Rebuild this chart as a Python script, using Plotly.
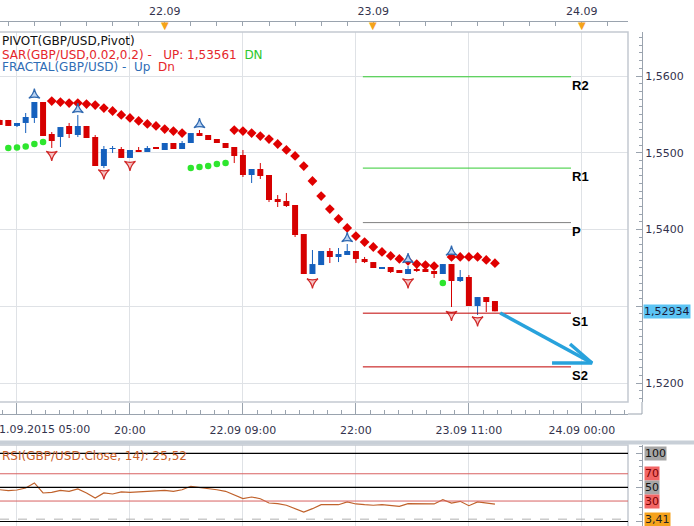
import plotly.graph_objects as go

W, H = 694, 526

# ---------------- data ----------------
bar_idx = list(range(-1, 57))
opens = [1.55427, 1.55427, 1.55349, 1.55388, 1.55453, 1.55661, 1.55244, 1.55205, 1.55349, 1.55231,
         1.55349, 1.55205, 1.54827, 1.55049, 1.55049, 1.54932, 1.55036, 1.55010, 1.55062, 1.55036,
         1.55127, 1.55049, 1.55127, 1.55257, 1.55231, 1.55179, 1.55127, 1.55075, 1.54971, 1.54710,
         1.54788, 1.54710, 1.54397, 1.54371, 1.54319, 1.53941, 1.53420, 1.53537, 1.53720, 1.53642,
         1.53668, 1.53720, 1.53616, 1.53576, 1.53498, 1.53511, 1.53472, 1.53420, 1.53485, 1.53485,
         1.53459, 1.53420, 1.53550, 1.53329, 1.53381, 1.53003, 1.53120, 1.53068]
highs = [1.55440, 1.55427, 1.55388, 1.55518, 1.55661, 1.55661, 1.55270, 1.55335, 1.55388, 1.55492,
         1.55349, 1.55231, 1.55088, 1.55088, 1.55075, 1.55036, 1.55075, 1.55088, 1.55062, 1.55127,
         1.55127, 1.55153, 1.55257, 1.55296, 1.55231, 1.55179, 1.55127, 1.55075, 1.55036, 1.54788,
         1.54866, 1.54710, 1.54449, 1.54476, 1.54319, 1.53941, 1.53733, 1.53720, 1.53759, 1.53759,
         1.53811, 1.53720, 1.53642, 1.53576, 1.53511, 1.53511, 1.53472, 1.53524, 1.53563, 1.53485,
         1.53459, 1.53550, 1.53550, 1.53472, 1.53407, 1.53120, 1.53120, 1.53068]
lows = [1.55362, 1.55349, 1.55335, 1.55257, 1.55388, 1.55218, 1.55062, 1.55075, 1.55192, 1.55205,
        1.55192, 1.54827, 1.54801, 1.54997, 1.54932, 1.54932, 1.55010, 1.55010, 1.55049, 1.55036,
        1.55049, 1.55049, 1.55127, 1.55231, 1.55166, 1.55127, 1.55062, 1.54866, 1.54684, 1.54606,
        1.54658, 1.54358, 1.54293, 1.54293, 1.53902, 1.53420, 1.53420, 1.53537, 1.53563, 1.53576,
        1.53668, 1.53563, 1.53563, 1.53498, 1.53498, 1.53433, 1.53433, 1.53420, 1.53446, 1.53446,
        1.53368, 1.53420, 1.52990, 1.53316, 1.53003, 1.52886, 1.52925, 1.52934]
closes = [1.55362, 1.55349, 1.55388, 1.55466, 1.55661, 1.55218, 1.55153, 1.55335, 1.55244, 1.55349,
          1.55192, 1.54827, 1.55049, 1.55055, 1.54932, 1.55036, 1.55010, 1.55062, 1.55049, 1.55127,
          1.55049, 1.55127, 1.55257, 1.55231, 1.55166, 1.55127, 1.55062, 1.54958, 1.54710, 1.54788,
          1.54697, 1.54384, 1.54358, 1.54306, 1.53928, 1.53420, 1.53550, 1.53720, 1.53642, 1.53681,
          1.53720, 1.53616, 1.53576, 1.53498, 1.53511, 1.53446, 1.53433, 1.53485, 1.53472, 1.53446,
          1.53420, 1.53550, 1.53329, 1.53381, 1.53003, 1.53120, 1.53055, 1.52934]

sar_idx = list(range(0, 57))
sar_vals = [1.55062, 1.55068, 1.55081, 1.55114, 1.55140,
            1.55674, 1.55661, 1.55648, 1.55648, 1.55635, 1.55622, 1.55583, 1.55544, 1.55492, 1.55453,
            1.55414, 1.55375, 1.55349, 1.55309, 1.55283, 1.55257,
            1.54801, 1.54814, 1.54827, 1.54853, 1.54866,
            1.55296, 1.55283, 1.55257, 1.55218, 1.55179, 1.55114, 1.55036, 1.54958, 1.54827, 1.54632,
            1.54436, 1.54267, 1.54137, 1.54020, 1.53915, 1.53837, 1.53772, 1.53707, 1.53655, 1.53616,
            1.53590, 1.53550, 1.53537, 1.53524,
            1.53303,
            1.53642, 1.53642, 1.53642, 1.53642, 1.53603, 1.53561]

frac_up_idx = [3, 8, 22, 39, 46, 51]
frac_up_vals = [1.55752, 1.55563, 1.55368, 1.53883, 1.53609, 1.53707]
frac_dn_idx = [5, 11, 14, 35, 46, 51, 54]
frac_dn_vals = [1.54977, 1.54736, 1.54847, 1.53316, 1.53316, 1.52892, 1.52821]

rsi_vals = [46.6, 45.2, 46.2, 49.1, 56.5, 41.8, 42.8, 45.7, 44.3, 47.7,
            41.8, 34.5, 41.8, 40.3, 43.3, 42.8, 43.5, 44.3, 44.3, 45.7,
            44.3, 46.6, 51.6, 50.1, 47.7, 46.6, 44.3, 39.3, 33.5, 35.9,
            33.4, 27.1, 26.1, 23.8, 18.8, 13.9, 18.8, 24.6, 24.6, 24.6,
            28.6, 25.7, 24.6, 23.8, 24.6, 23.8, 22.3, 26.1, 26.1, 26.1,
            25.7, 32.0, 27.1, 29.6, 23.2, 28.6, 27.1, 25.5]

pivot_names = ["R2", "R1", "P", "S1", "S2"]
pivot_vals = [1.5599, 1.5480, 1.5409, 1.5291, 1.5221]
pivot_colors = ["#33cc33", "#33cc33", "#808080", "#c00000", "#c00000"]
pivot_span = [40.8, 64.75]

trend_arrow_shaft = [(56.6, 1.52912), (67.17, 1.52261)]
trend_arrow_head = [(62.57, 1.52261), (67.17, 1.52261), (64.64, 1.52508)]

grid_idx = [1, 14, 27, 40, 53, 66]
bottom_labels = ["21.09.2015 05:00", "20:00", "22.09 09:00", "22:00", "23.09 11:00", "24.09 00:00"]
top_idx = [18, 42, 66]
top_labels = ["22.09", "23.09", "24.09"]

price_ticks = [1.52, 1.53, 1.54, 1.55, 1.56]
price_tick_text = ["1,5200", "", "1,5400", "1,5500", "1,5600"]

rsi_levels = [100, 70, 50, 30, 0]
rsi_level_colors = ["#000000", "#d86262", "#000000", "#d86262", "#000000"]
rsi_tag_vals = [100, 70, 50, 30, 3.41]
rsi_tag_text = ["100", "70", "50", "30", "3,41"]
rsi_tag_bg = ["#a6a6a6", "#f26565", "#a6a6a6", "#f26565", "#f5a21c"]
rsi_tag_fg = ["#111111", "#7a0000", "#111111", "#7a0000", "#222222"]

last_price = 1.52934
sar_last = "1,53561"
rsi_last = "25,52"

# ---------------- geometry helpers ----------------
def px(x):
    return x / W

def py(y):
    return 1 - y / H

XR = [-0.955, 71.31]
YR = [1.517525, 1.565733]
Y2R = [-6.6, 112.17]
XDOM = [0, px(628)]
AX = "#9aa3ae"
GRID = "#dfe2e6"
TXT = "#33334d"
FONT = "DejaVu Sans"

RED = "#d60000"
BLUE = "#1560bd"

fig = go.Figure()

# wicks
for col, bear in ((RED, True), (BLUE, False)):
    wx, wy = [], []
    for i, o, h, l, c in zip(bar_idx, opens, highs, lows, closes):
        if (c < o) == bear:
            wx += [i, i, None]
            wy += [l, h, None]
    fig.add_trace(go.Scatter(x=wx, y=wy, mode="lines", line=dict(color=col, width=1),
                             hoverinfo="skip", showlegend=False, xaxis="x", yaxis="y"))

# bodies
mh = 0.00012
for col, bear in ((RED, True), (BLUE, False)):
    bx, bb, bh = [], [], []
    for i, o, c in zip(bar_idx, opens, closes):
        if (c < o) == bear:
            bx.append(i)
            bb.append(min(o, c))
            bh.append(max(abs(c - o), mh))
    fig.add_trace(go.Bar(x=bx, y=bh, base=bb, width=0.69, marker=dict(color=col, line=dict(width=0)),
                         hoverinfo="skip", showlegend=False, xaxis="x", yaxis="y"))

# SAR
low_map = dict(zip(bar_idx, lows))
gx = [i for i, v in zip(sar_idx, sar_vals) if v < low_map[i]]
gy = [v for i, v in zip(sar_idx, sar_vals) if v < low_map[i]]
rx = [i for i, v in zip(sar_idx, sar_vals) if v >= low_map[i]]
ry = [v for i, v in zip(sar_idx, sar_vals) if v >= low_map[i]]
fig.add_trace(go.Scatter(x=gx, y=gy, mode="markers", marker=dict(symbol="circle", size=6.5, color="#2ee62e"),
                         hoverinfo="skip", showlegend=False))
fig.add_trace(go.Scatter(x=rx, y=ry, mode="markers", marker=dict(symbol="diamond", size=7.5, color="#e00000"),
                         hoverinfo="skip", showlegend=False))

# fractals
fig.add_trace(go.Scatter(x=frac_up_idx, y=frac_up_vals, mode="markers",
                         marker=dict(symbol="star-triangle-up", size=8, color="#b9d3f2",
                                     line=dict(color="#2f68b0", width=1.2)),
                         hoverinfo="skip", showlegend=False))
fig.add_trace(go.Scatter(x=frac_dn_idx, y=frac_dn_vals, mode="markers",
                         marker=dict(symbol="star-triangle-down", size=8, color="#f6c2c2",
                                     line=dict(color="#d02828", width=1.2)),
                         hoverinfo="skip", showlegend=False))

# pivot lines
for name, val, col in zip(pivot_names, pivot_vals, pivot_colors):
    fig.add_trace(go.Scatter(x=pivot_span, y=[val, val], mode="lines", line=dict(color=col, width=1),
                             hoverinfo="skip", showlegend=False))

# trend arrow
fig.add_trace(go.Scatter(x=[p[0] for p in trend_arrow_shaft], y=[p[1] for p in trend_arrow_shaft],
                         mode="lines", line=dict(color="#28a2dc", width=3.5), hoverinfo="skip", showlegend=False))
fig.add_trace(go.Scatter(x=[p[0] for p in trend_arrow_head], y=[p[1] for p in trend_arrow_head],
                         mode="lines", line=dict(color="#28a2dc", width=3.5), hoverinfo="skip", showlegend=False))

# RSI
fig.add_trace(go.Scatter(x=bar_idx, y=rsi_vals, mode="lines", line=dict(color="#c0622c", width=1.2),
                         hoverinfo="skip", showlegend=False, xaxis="x2", yaxis="y2"))

# dummy traces for overlay axes
fig.add_trace(go.Scatter(x=[30], y=[1.54], mode="markers", marker=dict(opacity=0), hoverinfo="skip",
                         showlegend=False, xaxis="x3", yaxis="y"))
fig.add_trace(go.Scatter(x=[30], y=[1.54], mode="markers", marker=dict(opacity=0), hoverinfo="skip",
                         showlegend=False, xaxis="x4", yaxis="y"))

shapes = []
shapes.append(dict(type="rect", xref="paper", yref="paper", x0=-0.01, x1=px(628), y0=py(402), y1=py(32),
                   line=dict(color="#c3c9d1", width=1.5), layer="above"))
shapes.append(dict(type="rect", xref="paper", yref="paper", x0=-0.01, x1=px(628), y0=-0.01, y1=py(445),
                   line=dict(color="#c3c9d1", width=1.5), layer="above"))
shapes.append(dict(type="rect", xref="paper", yref="paper", x0=0, x1=1, y0=py(444.5), y1=py(440.5),
                   fillcolor="#c8cfd7", line=dict(width=0)))
shapes.append(dict(type="line", xref="paper", yref="paper", x0=px(642), x1=px(642), y0=py(402), y1=py(414),
                   line=dict(color=AX, width=1)))
shapes.append(dict(type="line", xref="paper", yref="paper", x0=px(628), x1=px(642), y0=py(414), y1=py(414),
                   line=dict(color=AX, width=1)))
for lv, col in zip(rsi_levels, rsi_level_colors):
    shapes.append(dict(type="line", xref="paper", yref="y2", x0=0, x1=px(628), y0=lv, y1=lv,
                       line=dict(color=col, width=1.2 if col == "#000000" else 1)))
shapes.append(dict(type="line", xref="paper", yref="y2", x0=0, x1=px(628), y0=3.41, y1=3.41,
                   line=dict(color="#b0b0b0", width=1, dash="dash")))

ann = []
ann.append(dict(xref="paper", yref="paper", x=px(0), y=py(41.5), xanchor="left", yanchor="middle",
                text="PIVOT(GBP/USD,Pivot)", showarrow=False, font=dict(size=12, color="#111111")))
ann.append(dict(xref="paper", yref="paper", x=px(0), y=py(54.5), xanchor="left", yanchor="middle",
                text="<span style='color:#e5262b'>SAR(GBP/USD,0.02,0.2) -\u00a0\u00a0\u00a0UP: " + sar_last +
                     "</span>\u00a0\u00a0<span style='color:#2dc82d'>DN</span>",
                showarrow=False, font=dict(size=12)))
ann.append(dict(xref="paper", yref="paper", x=px(0), y=py(67.5), xanchor="left", yanchor="middle",
                text="<span style='color:#2f6db5'>FRACTAL(GBP/USD) -\u00a0\u00a0Up</span>\u00a0\u00a0"
                     "<span style='color:#e5262b'>Dn</span>",
                showarrow=False, font=dict(size=12)))
for name, val in zip(pivot_names, pivot_vals):
    ann.append(dict(xref="x", yref="y", x=pivot_span[1], y=val, xanchor="left", yanchor="top",
                    text="<b>" + name + "</b>", showarrow=False, xshift=-1, yshift=1,
                    font=dict(size=13, color="#000000", family="Liberation Sans")))
ann.append(dict(xref="paper", yref="y", x=px(643), y=last_price, xanchor="left", yanchor="middle",
                text=f"{last_price:.5f}".replace(".", ","), showarrow=False, bgcolor="#5cc4f4",
                borderpad=0, font=dict(size=11, color="#1a1a3a")))
ann.append(dict(xref="paper", yref="paper", x=px(-10), y=py(429), xanchor="left", yanchor="middle",
                text=bottom_labels[0], showarrow=False, font=dict(size=11, color=TXT)))
for t in top_idx:
    ann.append(dict(xref="x", yref="paper", x=t, y=py(25), xanchor="center", yanchor="middle",
                    text="\u25bc", showarrow=False, font=dict(size=10, color="#f5a31a")))
ann.append(dict(xref="paper", yref="paper", x=px(0), y=py(456), xanchor="left", yanchor="middle",
                text="RSI(GBP/USD.Close, 14): " + rsi_last, showarrow=False,
                font=dict(size=12, color="#c8602a")))
for v, t, bg, fg in zip(rsi_tag_vals, rsi_tag_text, rsi_tag_bg, rsi_tag_fg):
    ann.append(dict(xref="paper", yref="y2", x=px(644), y=v, xanchor="left", yanchor="middle",
                    text=t, showarrow=False, bgcolor=bg, borderpad=0, font=dict(size=11, color=fg)))

fig.update_layout(
    width=W, height=H, margin=dict(l=0, r=0, t=0, b=0),
    paper_bgcolor="white", plot_bgcolor="white",
    font=dict(family=FONT, size=11, color=TXT),
    separators=", ",
    barmode="overlay", showlegend=False,
    shapes=shapes, annotations=ann,
    xaxis=dict(domain=XDOM, range=XR, anchor="y", showgrid=True, gridcolor=GRID, gridwidth=1,
               tickmode="array", tickvals=grid_idx, showticklabels=False, ticks="", zeroline=False,
               showline=False),
    yaxis=dict(domain=[py(402), py(32)], range=YR, anchor="free", position=px(642), side="right",
               showline=True, linecolor=AX, linewidth=1, ticks="inside", ticklen=6, tickcolor=AX,
               tickmode="array", tickvals=price_ticks, ticktext=price_tick_text,
               showgrid=True, gridcolor=GRID, zeroline=False,
               minor=dict(tickmode="linear", dtick=0.001, tick0=1.52, ticks="inside", ticklen=3,
                          tickcolor=AX, showgrid=False),
               tickfont=dict(size=11, color=TXT), ticklabelstandoff=0),
    xaxis2=dict(domain=XDOM, range=XR, anchor="y2", showgrid=True, gridcolor=GRID, tickmode="array",
                tickvals=grid_idx, showticklabels=False, ticks="", zeroline=False, showline=False),
    yaxis2=dict(domain=[0, py(445)], range=Y2R, anchor="free", position=px(642), side="right",
                showline=True, linecolor=AX, ticks="inside", ticklen=6, tickcolor=AX, tickmode="array",
                tickvals=[0, 50, 100], showticklabels=False, showgrid=False, zeroline=False,
                minor=dict(tickmode="linear", dtick=10, tick0=0, ticks="inside", ticklen=3, tickcolor=AX)),
    xaxis3=dict(overlaying="x", anchor="free", position=py(414), side="bottom", range=XR,
                tickmode="array", tickvals=grid_idx, ticktext=[""] + bottom_labels[1:],
                ticks="inside", ticklen=11, tickcolor=AX, showline=True, linecolor=AX,
                showgrid=False, zeroline=False,
                minor=dict(tickmode="linear", tick0=1, dtick=13 / 8, ticks="inside", ticklen=4, tickcolor=AX),
                tickfont=dict(size=11, color=TXT), ticklabelstandoff=6),
    xaxis4=dict(overlaying="x", anchor="free", position=py(21), side="top", range=XR,
                tickmode="array", tickvals=top_idx, ticktext=top_labels,
                ticks="inside", ticklen=4, tickcolor=AX, showline=True, linecolor=AX,
                showgrid=False, zeroline=False,
                minor=dict(tickmode="linear", tick0=0, dtick=3, ticks="inside", ticklen=4, tickcolor=AX),
                tickfont=dict(size=11, color=TXT), ticklabelstandoff=2),
)

fig.write_html("out.html", config={"displayModeBar": False},
               post_script="document.body.style.margin='0';document.body.style.overflow='hidden';")
